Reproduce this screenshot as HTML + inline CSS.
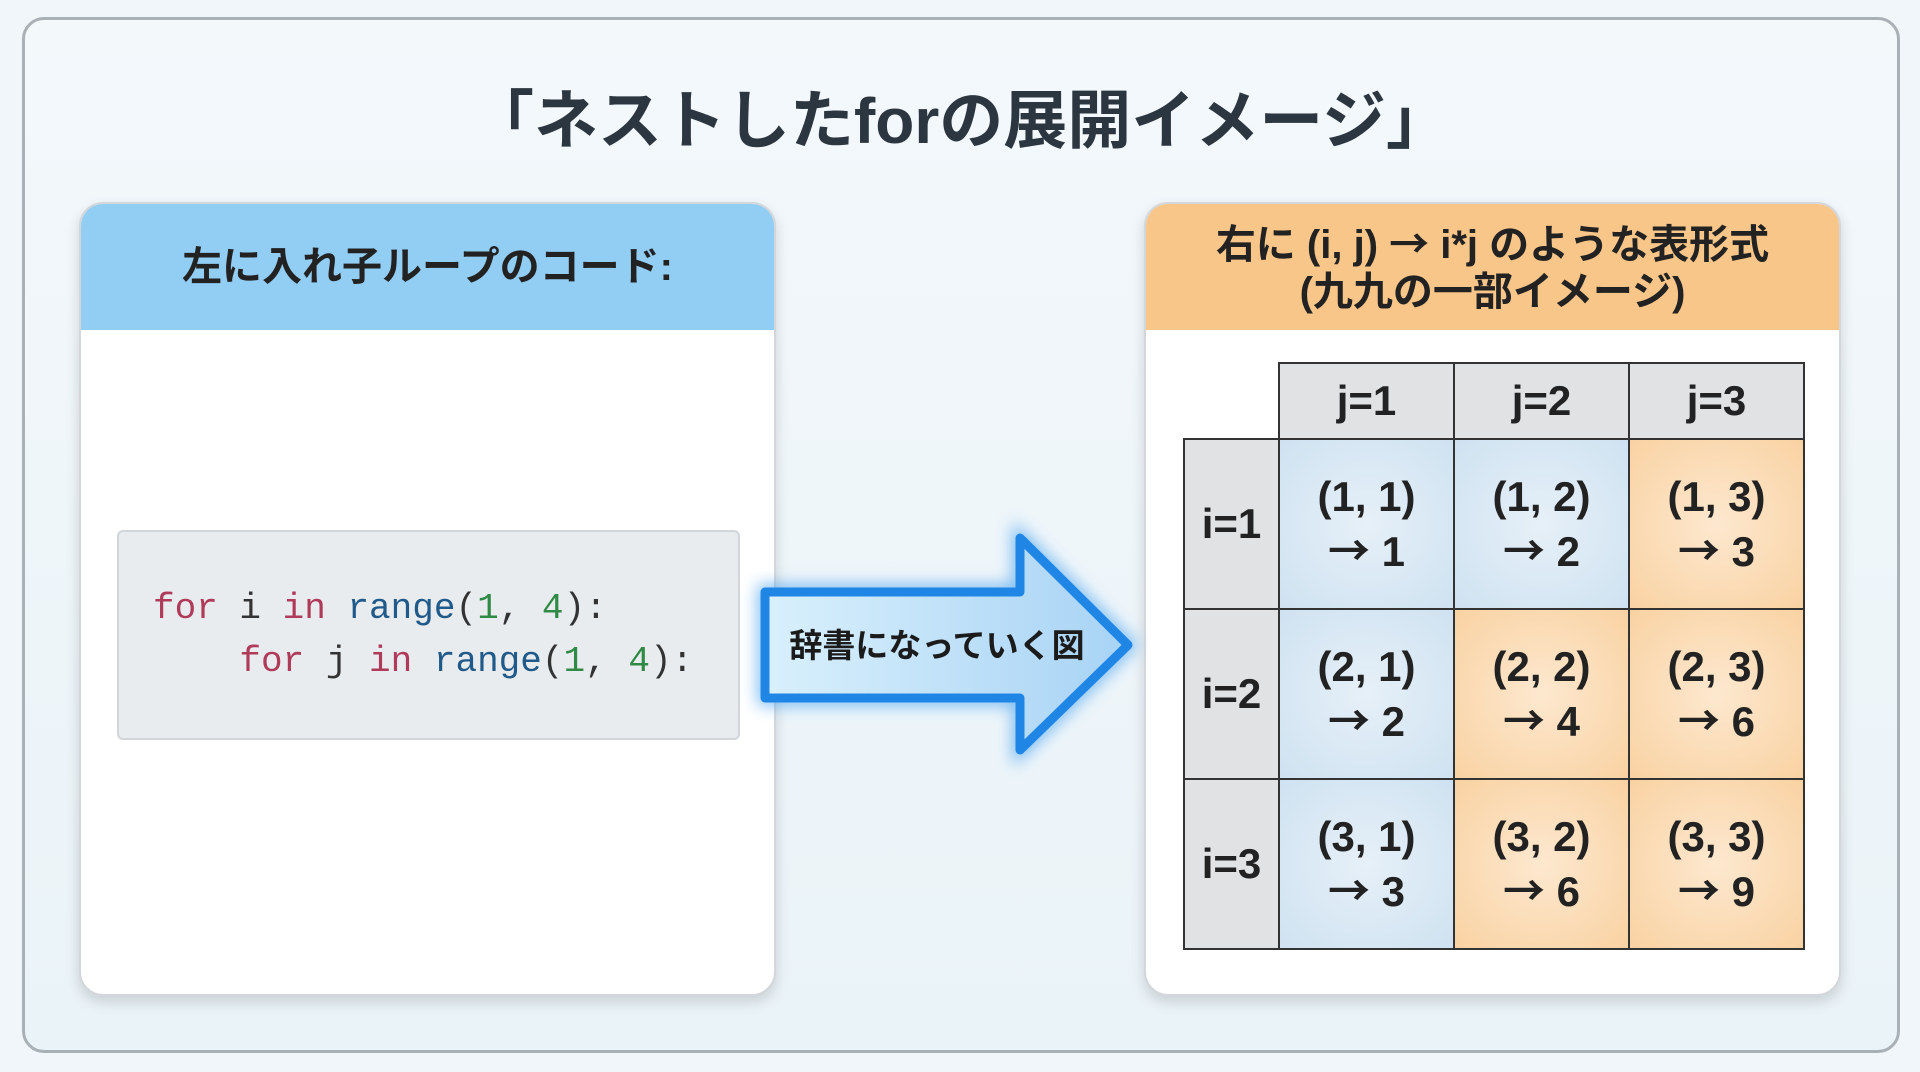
<!DOCTYPE html><html><head><meta charset="utf-8"><style>
body{margin:0;width:1920px;height:1072px;background:#f1f6fa;font-family:"Liberation Sans","Noto Sans CJK JP",sans-serif;position:relative;overflow:hidden}
.frame{position:absolute;left:22px;top:17px;width:1872px;height:1030px;border:3px solid #a9b0b6;border-radius:22px;background:linear-gradient(#f3f8fb,#eaf3f8)}
.title{position:absolute;left:0;width:1920px;top:70px;text-align:center;font-size:64px;font-weight:bold;color:#2c3640}
.panel{position:absolute;top:202px;width:693px;height:790px;background:#fff;border:2px solid #d3d7db;border-radius:24px;overflow:hidden;box-shadow:0 6px 14px rgba(0,0,0,.15)}
.hdr{height:126px;display:flex;align-items:center;justify-content:center;text-align:center;font-weight:bold;font-size:40px;color:#222;line-height:47px}
.code{position:absolute;left:36px;top:326px;width:619px;height:206px;background:#e9ecef;border:2px solid #d2d6da;border-radius:6px;font-family:"Liberation Mono",monospace;font-size:36px;color:#333}
.code div{position:absolute;left:34px;white-space:pre}
.k{color:#b03a5a}.f{color:#205a8a}.n{color:#2e8a44}
.ar{font-family:"Noto Sans CJK JP",sans-serif}
table{position:absolute;border-collapse:collapse;font-weight:bold;color:#222}
td{border:2px solid #333;text-align:center;font-size:42px;line-height:52px;padding:0}
.b{background:radial-gradient(ellipse at center,#e6f0f8 0%,#cfe2f1 100%)}
.o{background:radial-gradient(ellipse at center,#fde8cf 0%,#f9d2a2 100%)}
.g{background:#e0e2e4}
</style></head><body>
<div class="frame"></div>
<div class="title">「ネストしたforの展開イメージ」</div>
<div class="panel" style="left:79px">
 <div class="hdr" style="background:#92cdf3"><div>左に入れ子ループのコード:</div></div>
 <div class="code">
  <div style="top:56px"><span class="k">for</span> i <span class="k">in</span> <span class="f">range</span>(<span class="n">1</span>, <span class="n">4</span>):</div>
  <div style="top:109px">    <span class="k">for</span> j <span class="k">in</span> <span class="f">range</span>(<span class="n">1</span>, <span class="n">4</span>):</div>
 </div>
</div>
<div class="panel" style="left:1144px">
 <div class="hdr" style="background:#f8c688"><div>右に (i, j) <span class="ar">→</span> i*j のような表形式<br>(九九の一部イメージ)</div></div>
</div>
<svg style="position:absolute;left:0;top:0" width="1920" height="1072">
 <defs><linearGradient id="ag" x1="0" x2="1"><stop offset="0" stop-color="#d9f0fc"/><stop offset="1" stop-color="#a8d3f5"/></linearGradient>
 <filter id="gl" x="-20%" y="-20%" width="140%" height="140%"><feGaussianBlur stdDeviation="8"/></filter></defs>
 <polygon points="765,592 1020,592 1020,538 1128,645 1020,750 1020,698 765,698" fill="none" stroke="#3a9cf0" stroke-width="14" filter="url(#gl)" opacity=".7"/>
 <polygon points="765,592 1020,592 1020,538 1128,645 1020,750 1020,698 765,698" fill="url(#ag)" stroke="#1f86e6" stroke-width="9" stroke-linejoin="round"/>
 <text x="937" y="657" text-anchor="middle" font-size="33" font-weight="bold" fill="#1b1b1b" font-family="Liberation Sans, Noto Sans CJK JP, sans-serif">辞書になっていく図</text>
</svg>
<table style="left:1183px;top:362px">
<tr style="height:76px"><td style="border:none;width:94px;background:transparent"></td><td class="g" style="width:173px">j=1</td><td class="g" style="width:173px">j=2</td><td class="g" style="width:173px">j=3</td></tr>
<tr style="height:170px"><td class="g">i=1</td><td class="b">(1, 1)<br><span class="ar">→</span> 1</td><td class="b">(1, 2)<br><span class="ar">→</span> 2</td><td class="o">(1, 3)<br><span class="ar">→</span> 3</td></tr>
<tr style="height:170px"><td class="g">i=2</td><td class="b">(2, 1)<br><span class="ar">→</span> 2</td><td class="o">(2, 2)<br><span class="ar">→</span> 4</td><td class="o">(2, 3)<br><span class="ar">→</span> 6</td></tr>
<tr style="height:170px"><td class="g">i=3</td><td class="b">(3, 1)<br><span class="ar">→</span> 3</td><td class="o">(3, 2)<br><span class="ar">→</span> 6</td><td class="o">(3, 3)<br><span class="ar">→</span> 9</td></tr>
</table>
</body></html>
